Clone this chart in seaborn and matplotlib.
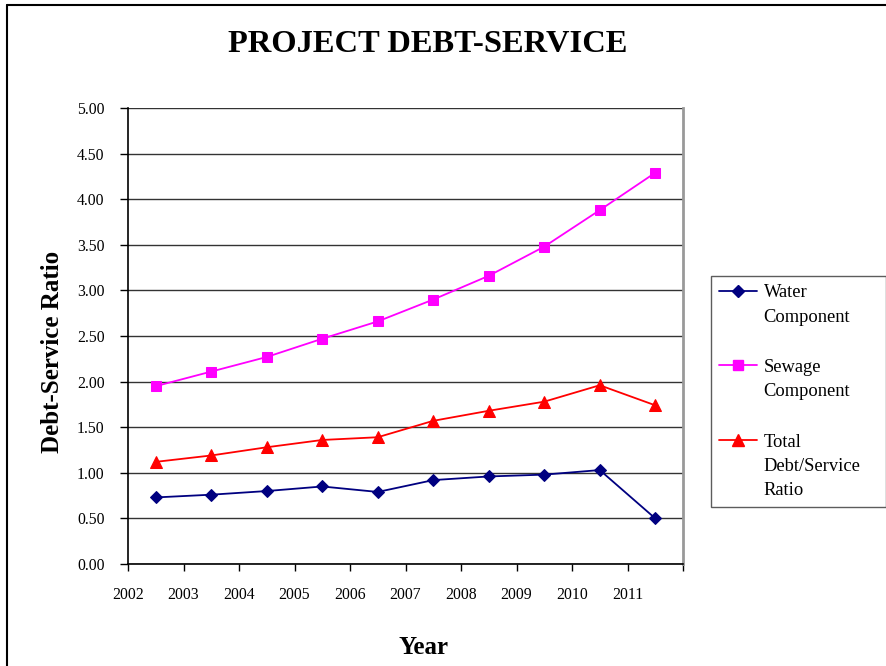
import matplotlib
matplotlib.use("Agg")
import matplotlib.pyplot as plt
import seaborn as sns
import pandas as pd
from matplotlib.lines import Line2D

years = [2002, 2003, 2004, 2005, 2006, 2007, 2008, 2009, 2010, 2011]
water = [0.73, 0.76, 0.80, 0.85, 0.79, 0.92, 0.96, 0.98, 1.03, 0.50]
sewage = [1.95, 2.11, 2.27, 2.47, 2.66, 2.90, 3.16, 3.48, 3.88, 4.29]
total = [1.12, 1.19, 1.28, 1.36, 1.39, 1.57, 1.68, 1.78, 1.96, 1.74]
series_names = [["Water", "Component"], ["Sewage", "Component"], ["Total", "Debt/Service", "Ratio"]]
y_ticks = [0.0, 0.5, 1.0, 1.5, 2.0, 2.5, 3.0, 3.5, 4.0, 4.5, 5.0]

sns.set_theme(style="white")
plt.rcParams['font.family'] = ['Liberation Serif', 'DejaVu Serif']
plt.rcParams['text.color'] = 'black'
plt.rcParams['xtick.color'] = 'black'
plt.rcParams['ytick.color'] = 'black'

fig = plt.figure(figsize=(8.87, 6.66), dpi=100)
ax = fig.add_axes([128/887, 1 - 564/666, (683-128)/887, (564-108)/666])

colors = ["#000080", "#FF00FF", "#FF0000"]
markers = ["D", "s", "^"]
msizes = [6, 7, 8]
line_handles = []
for vals, name, c, m, ms in zip([water, sewage, total], series_names, colors, markers, msizes):
    df = pd.DataFrame({"x": [y + 0.5 for y in years], "y": vals})
    sns.lineplot(data=df, x="x", y="y", ax=ax, color=c, marker=m, markersize=ms,
                 markeredgecolor=c, linewidth=1.3)
    line_handles.append(Line2D([], [], color=c, marker=m, markersize=ms,
                               markeredgecolor=c, linewidth=1.3))

ax.set_xlim(years[0], years[-1] + 1)
ax.set_ylim(y_ticks[0], y_ticks[-1])
ax.set_yticks(y_ticks)
ax.set_yticklabels([f"{v:.2f}" for v in y_ticks])
ax.set_xticks(years + [years[-1] + 1])
ax.set_xticklabels([str(y) for y in years] + [""])
ax.tick_params(axis="y", direction="out", length=6, width=1, color="black",
               labelsize=11.3, left=True, pad=11, labelcolor="black")
ax.tick_params(axis="x", direction="out", length=5, width=1, color="black",
               labelsize=11.3, bottom=True, pad=11.5, labelcolor="black")
ax.yaxis.grid(True, color="#333333", linewidth=1)
ax.xaxis.grid(False)
for s in ["left", "bottom"]:
    ax.spines[s].set_color("black")
    ax.spines[s].set_linewidth(1.2)
ax.spines["top"].set_visible(False)
ax.spines["right"].set_color("#999999")
ax.spines["right"].set_linewidth(2)
ax.set_xlabel("")
ax.set_ylabel("")

# legend: one row per text line, marker beside the first line of each entry
blank = Line2D([], [], color="none")
handles, labels = [], []
for i, (h, parts) in enumerate(zip(line_handles, series_names)):
    for j, p in enumerate(parts):
        handles.append(h if j == 0 else blank)
        labels.append(p)
    if i < len(series_names) - 1:
        handles.append(blank)
        labels.append(" ")
leg = fig.legend(handles, labels, loc="upper left",
                 bbox_to_anchor=(711/887, 1 - 276/666 - 0.3, 175/887, 0.3), mode="expand",
                 frameon=True, fontsize=13.3, handlelength=2.05, labelspacing=0.39,
                 borderpad=0.45, fancybox=False, edgecolor="#333333", handletextpad=0.35,
                 borderaxespad=0)
leg.get_frame().set_linewidth(1)
for t in leg.get_texts():
    if t.get_text() == " ":
        t.set_fontsize(16)

fig.text(428/887, 1 - 45/666, "PROJECT DEBT-SERVICE", ha="center", va="center",
         fontsize=23.4, fontweight="bold")
fig.text(53/887, 1 - 352/666, "Debt-Service Ratio", ha="center", va="center",
         rotation=90, fontsize=18, fontweight="bold")
fig.text(424/887, 1 - 647/666, "Year", ha="center", va="center",
         fontsize=18, fontweight="bold")

# outer chart frame (left and top edges visible)
fig.add_artist(Line2D([7/887, 7/887], [0, 1 - 5/666], color="black", lw=1.5, transform=fig.transFigure))
fig.add_artist(Line2D([7/887, 1], [1 - 5/666, 1 - 5/666], color="black", lw=1.5, transform=fig.transFigure))

fig.savefig("out.png", dpi=100)
